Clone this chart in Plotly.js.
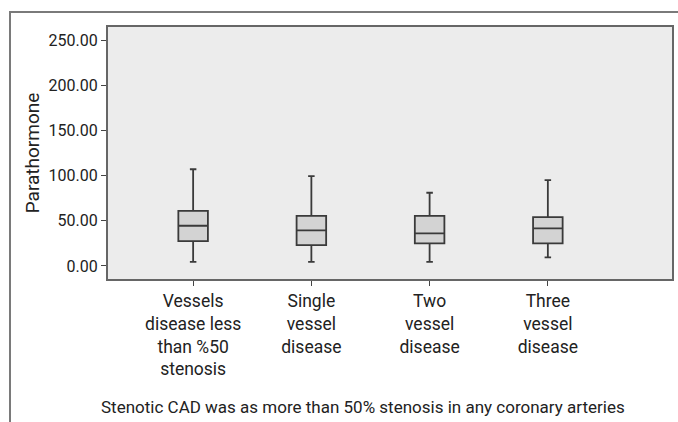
<!DOCTYPE html>
<html>
<head>
<meta charset="utf-8">
<script src="https://cdn.plot.ly/plotly-3.0.1.min.js"></script>
<style>
  html, body { margin: 0; padding: 0; background: #fff; }
  #wrap { position: relative; width: 678px; height: 422px; overflow: hidden; }
  #frame { position: absolute; left: 9px; top: 11px; width: 700px; height: 430px;
           border-top: 2px solid #7a7a7a; border-left: 2px solid #7a7a7a; box-sizing: border-box; pointer-events: none; }
  #chart { position: absolute; left: 0; top: 0; width: 678px; height: 422px; }
</style>
</head>
<body>
<div id="wrap">
  <div id="chart"></div>
  <div id="frame"></div>
</div>
<script>
// Categories (x-axis tick labels)
var categories = [
  "Vessels<br>disease less<br>than %50<br>stenosis",
  "Single<br>vessel<br>disease",
  "Two<br>vessel<br>disease",
  "Three<br>vessel<br>disease"
];
// Box statistics (Parathormone)
var upperWhisker = [107, 99.5, 81, 95];
var q3Values     = [61, 55.5, 55.5, 54];
var medianValues = [44.5, 39.5, 36, 41.5];
var q1Values     = [27.5, 23, 25, 25];
var lowerWhisker = [4.5, 4.5, 4.5, 9.5];
// Y-axis ticks
var yTickVals = [0, 50, 100, 150, 200, 250];

var trace = {
  type: "box",
  x: categories,
  q1: q1Values,
  median: medianValues,
  q3: q3Values,
  lowerfence: lowerWhisker,
  upperfence: upperWhisker,
  width: 0.25,
  whiskerwidth: 0.22,
  fillcolor: "#d3d3d3",
  line: { color: "#3a3a3a", width: 1.8 },
  boxpoints: false,
  hoverinfo: "skip",
  showlegend: false
};

var fontFam = "Roboto, Liberation Sans, Arial, sans-serif";

var layout = {
  width: 678,
  height: 422,
  margin: { l: 108, r: 6, t: 27, b: 143, pad: 0 },
  paper_bgcolor: "rgba(0,0,0,0)",
  plot_bgcolor: "#ececec",
  font: { family: fontFam, color: "#222" },
  showlegend: false,
  xaxis: {
    type: "category",
    range: [-0.72, 4.05],
    showgrid: false,
    zeroline: false,
    showline: true,
    mirror: true,
    linecolor: "#666",
    linewidth: 2,
    ticks: "outside",
    ticklen: 5,
    tickwidth: 1,
    tickcolor: "#444",
    tickfont: { size: 17.5, family: fontFam, color: "#222" },
    fixedrange: true
  },
  yaxis: {
    range: [-14.4, 264.4],
    tickvals: yTickVals,
    tickformat: ".2f",
    showgrid: false,
    zeroline: false,
    showline: true,
    mirror: true,
    linecolor: "#666",
    linewidth: 2,
    ticks: "outside",
    ticklen: 5,
    tickwidth: 1,
    tickcolor: "#444",
    tickfont: { size: 16, family: fontFam, color: "#222" },
    title: { text: "Parathormone", font: { size: 19, family: fontFam, color: "#222" }, standoff: 4 },
    automargin: false,
    fixedrange: true
  },
  annotations: [{
    text: "Stenotic CAD was as more than 50% stenosis in any coronary arteries",
    xref: "paper", yref: "paper",
    x: 0.452, y: -0.508,
    xanchor: "center", yanchor: "middle",
    showarrow: false,
    font: { size: 17, family: fontFam, color: "#222" }
  }]
};

Plotly.newPlot("chart", [trace], layout, { displayModeBar: false, staticPlot: true });
</script>
</body>
</html>
